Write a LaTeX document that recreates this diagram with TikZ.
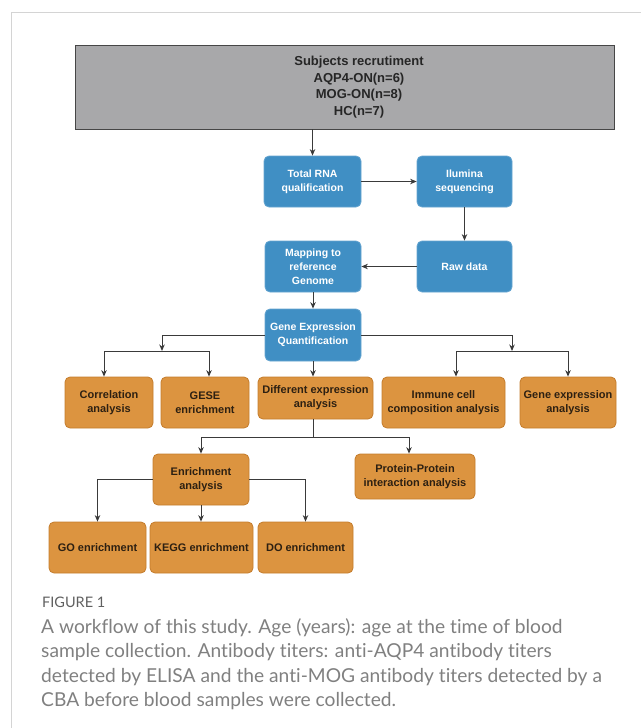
\documentclass[tikz,border=0pt]{standalone}
\usepackage{fontspec}
\setmainfont{Liberation Sans}
\newfontfamily\capfont[Ligatures={NoCommon}]{Lato}
\usepackage{xcolor}
\usepackage{tikz}
\usetikzlibrary{positioning,calc,arrows.meta}

\definecolor{subjgray}{RGB}{168,168,170}
\definecolor{boxblue}{RGB}{64,143,196}
\definecolor{boxorange}{RGB}{220,148,64}
\definecolor{orangeedge}{RGB}{196,124,44}
\definecolor{orangetext}{RGB}{45,32,18}
\definecolor{linegray}{RGB}{58,58,58}
\definecolor{framegray}{RGB}{212,212,212}
\definecolor{capgray}{RGB}{128,128,128}

\tikzset{
	subjbox/.style={minimum width=539pt,minimum height=84pt,fill=subjgray,draw=gray!55!black,line width=0.8pt,inner sep=0pt,font=\bfseries\fontsize{13}{16.5}\selectfont,text=black!85},
	bluebox/.style={rounded corners=5pt,fill=boxblue,draw=boxblue!80!white,line width=0.8pt,text=white,align=center,inner sep=1pt,font=\bfseries\fontsize{10.5}{14}\selectfont},
	orangebox/.style={rounded corners=5pt,fill=boxorange,draw=orangeedge,line width=0.8pt,text=orangetext,align=center,inner sep=1pt,minimum height=51pt,font=\bfseries\fontsize{11}{14}\selectfont},
	arr/.style={-{Stealth[length=6.5pt,width=5.5pt]},draw=linegray,line width=1pt},
	conn/.style={draw=linegray,line width=1pt},
}

\begin{document}
\begin{tikzpicture}[x=1pt,y=-1pt]
	\useasboundingbox (0,0) rectangle (641,728);
	\draw[framegray,line width=1pt] (11,728) -- (11,12) -- (641,12);

	% recruitment
	\node[subjbox] (subj) at (344.5,87) {\hspace*{29pt}\begin{tabular}{@{}c@{}}Subjects recrutiment\\AQP4-ON(n=6)\\MOG-ON(n=8)\\HC(n=7)\end{tabular}};

	% sequencing steps
	\node[bluebox,minimum width=97pt,minimum height=51pt] (rna) at (312.5,181.5) {Total RNA\\qualification};
	\node[bluebox,minimum width=95pt,minimum height=51pt] (illu) at (464.5,181.5) {Ilumina\\sequencing};
	\node[bluebox,minimum width=95pt,minimum height=51pt] (raw) at (464.5,266.5) {Raw data};
	\node[bluebox,minimum width=96pt,minimum height=51pt] (map) at (313,266.5) {Mapping to\\reference\\Genome};
	\node[bluebox,minimum width=96pt,minimum height=52pt] (gene) at (313,335) {Gene Expression\\Quantification};

	% analyses
	\node[orangebox,minimum width=88pt] (corr) at (109,402.5) {Correlation\\analysis};
	\node[orangebox,minimum width=88pt] (gese) at (205,402.5) {GESE\\enrichment};
	\node[orangebox,minimum width=115pt,minimum height=42pt] (diff) at (315.5,398) {Different expression\\analysis};
	\node[orangebox,minimum width=123pt] (immu) at (443.5,402.5) {Immune cell\\composition analysis};
	\node[orangebox,minimum width=96pt] (gexp) at (568,402.5) {Gene expression\\analysis};

	\node[orangebox,minimum width=96pt] (enr) at (201,479.5) {Enrichment\\analysis};
	\node[orangebox,minimum width=120pt,minimum height=45pt] (ppi) at (415,476.5) {Protein-Protein\\interaction analysis};

	\node[orangebox,minimum width=97pt] (goen) at (97.5,547.5) {GO enrichment};
	\node[orangebox,minimum width=103pt] (keggen) at (201.5,547.5) {KEGG enrichment};
	\node[orangebox,minimum width=95pt] (doen) at (305.5,547.5) {DO enrichment};

	% caption
	\node[anchor=base west,inner sep=0pt,text=capgray!75!black,font=\capfont\fontsize{14.5}{16}\selectfont] (figlab) at (42,607) {FIGURE 1};
	\node[anchor=north west,inner sep=0pt,align=left,text=capgray,font=\capfont\fontsize{19.2}{24.5}\selectfont] (cap) at (41,618) {A workflow of this study. Age (years): age at the time of blood\\sample collection. Antibody titers: anti-AQP4 antibody titers\\detected by ELISA and the anti-MOG antibody titers detected by a\\CBA before blood samples were collected.};

	% connectors
	\coordinate (lmid) at (162,351);
	\coordinate (lbarL) at (104,351);
	\coordinate (lbarR) at (209,351);
	\coordinate (rmid) at (512,351);
	\coordinate (rbarL) at (456,351);
	\coordinate (rbarR) at (568,351);
	\coordinate (dmid) at (313,437);
	\coordinate (dbarL) at (201,437);
	\coordinate (dbarR) at (409,437);

	\draw[arr] (subj.south -| rna.north) -- (rna.north);
	\draw[arr] (rna.east) -- (illu.west);
	\draw[arr] (illu.south) -- (raw.north);
	\draw[arr] (raw.west) -- (map.east);
	\draw[arr] (map.south) -- (gene.north);

	\draw[arr] (gene.west) -| (lmid);
	\draw[conn] (lbarL) -- (lbarR);
	\draw[arr] (lbarL) -- (lbarL |- corr.north);
	\draw[arr] (lbarR) -- (lbarR |- gese.north);
	\draw[arr] (gene.east) -| (rmid);
	\draw[conn] (rbarL) -- (rbarR);
	\draw[arr] (rbarL) -- (rbarL |- immu.north);
	\draw[arr] (rbarR) -- (rbarR |- gexp.north);
	\draw[arr] (gene.south) -- (gene.south |- diff.north);

	\draw[conn] (dmid |- diff.south) -- (dmid);
	\draw[conn] (dbarL) -- (dbarR);
	\draw[arr] (dbarL) -- (dbarL |- enr.north);
	\draw[arr] (dbarR) -- (dbarR |- ppi.north);

	\draw[arr] (enr.west) -| (goen.north);
	\draw[arr] (enr.south) -- (enr.south |- keggen.north);
	\draw[arr] (enr.east) -| (doen.north);
\end{tikzpicture}
\end{document}
